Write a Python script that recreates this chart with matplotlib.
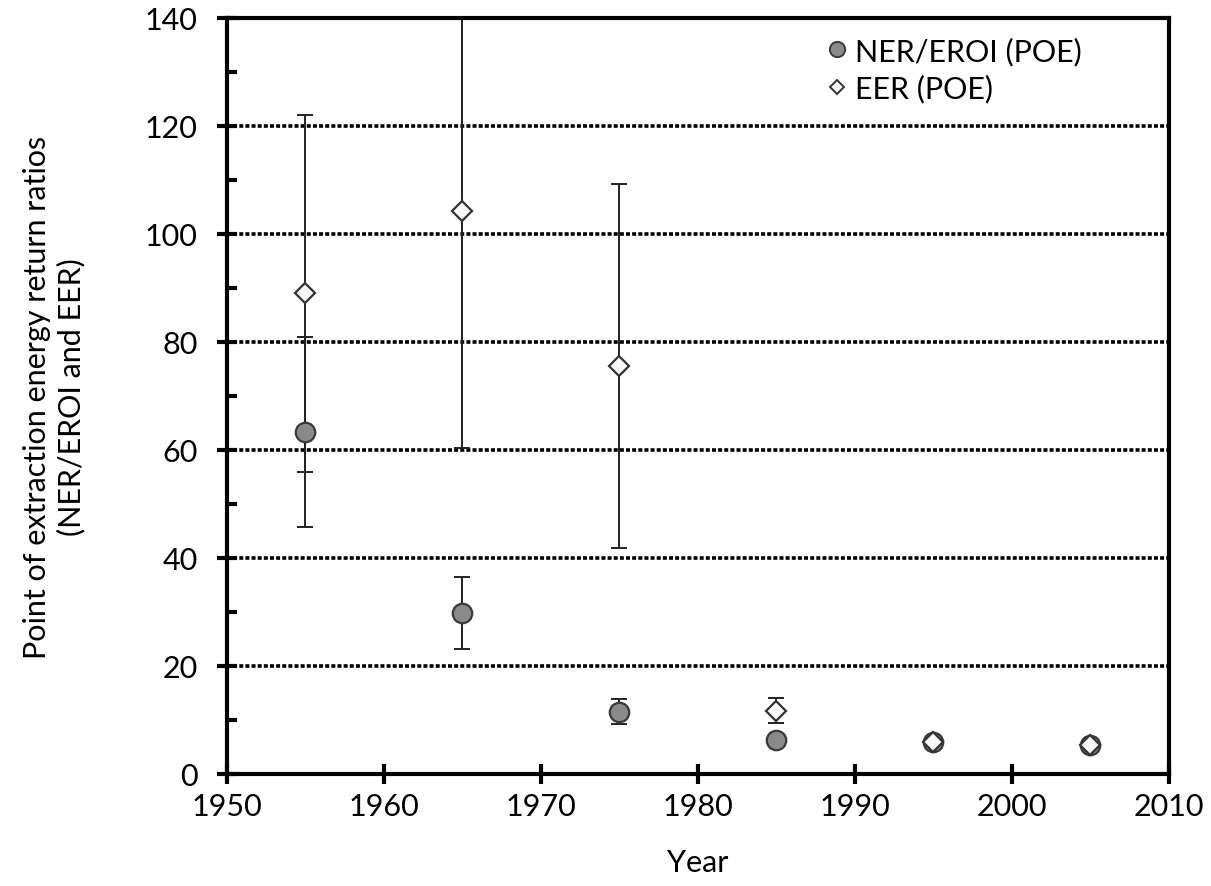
import numpy as np
import matplotlib.pyplot as plt
from matplotlib.ticker import MultipleLocator

plt.rcParams['font.family'] = ['Lato', 'DejaVu Sans']

# %% data
years = [1955, 1965, 1975, 1985, 1995, 2005]

ner = [63.3, 29.8, 11.5, 6.2, 6.0, 5.3]          # NER/EROI (POE)
ner_err = [17.6, 6.7, 2.3, 0.0, 0.0, 0.0]

eer = [89.0, 104.3, 75.6, 11.7, 6.0, 5.3]        # EER (POE)
eer_err = [33.0, 44.0, 33.7, 2.3, 0.0, 0.0]

# %% plot
fig = plt.figure(figsize=(12.11, 8.87), dpi=100)
ax = fig.add_axes([0.1874, 0.1263, 0.7779, 0.8523])

# grid lines
for yv in range(20, 140, 20):
    ax.axhline(yv, color='black', lw=2.6, ls=(0, (1.1, 0.6)), zorder=1)

ax.errorbar(years, ner, yerr=ner_err, fmt='none', ecolor='#222222',
            elinewidth=1.4, capsize=6, capthick=1.4, zorder=2)
ax.errorbar(years, eer, yerr=eer_err, fmt='none', ecolor='#222222',
            elinewidth=1.4, capsize=6, capthick=1.4, zorder=2)

ax.plot(years, ner, 'o', ms=14, mfc='#8a8a8a', mec='#3a3a3a', mew=1.6,
        ls='none', zorder=3, label='NER/EROI (POE)')
ax.plot(years, eer, 'D', ms=10.5, mfc='#f7f7f7', mec='#333333', mew=1.6,
        ls='none', zorder=4, label='EER (POE)')

ax.set_xlim(1950, 2010)
ax.set_ylim(0, 140)
ax.xaxis.set_major_locator(MultipleLocator(10))
ax.yaxis.set_major_locator(MultipleLocator(20))
ax.yaxis.set_minor_locator(MultipleLocator(10))

ax.tick_params(axis='both', which='major', direction='inout', length=14,
               width=3, labelsize=22)
ax.tick_params(axis='y', which='major', pad=14)
ax.tick_params(axis='x', which='major', pad=6)
ax.tick_params(axis='y', which='minor', direction='in', length=7, width=3)
for s in ax.spines.values():
    s.set_linewidth(3)

ax.set_xlabel('Year', fontsize=22, labelpad=20)
ax.set_ylabel('Point of extraction energy return ratios\n(NER/EROI and EER)',
              fontsize=22, labelpad=43, linespacing=1.25)

# legend with smaller markers
h1, = ax.plot([], [], 'o', ms=11, mfc='#8a8a8a', mec='#3a3a3a', mew=1.4)
h2, = ax.plot([], [], 'D', ms=7.5, mfc='#f7f7f7', mec='#333333', mew=1.4)
ax.legend([h1, h2], ['NER/EROI (POE)', 'EER (POE)'], loc='upper right',
          bbox_to_anchor=(0.937, 1.012), frameon=False, fontsize=22,
          handletextpad=0.1, labelspacing=0.3, handlelength=1.0)

fig.savefig('out.png', dpi=100)
